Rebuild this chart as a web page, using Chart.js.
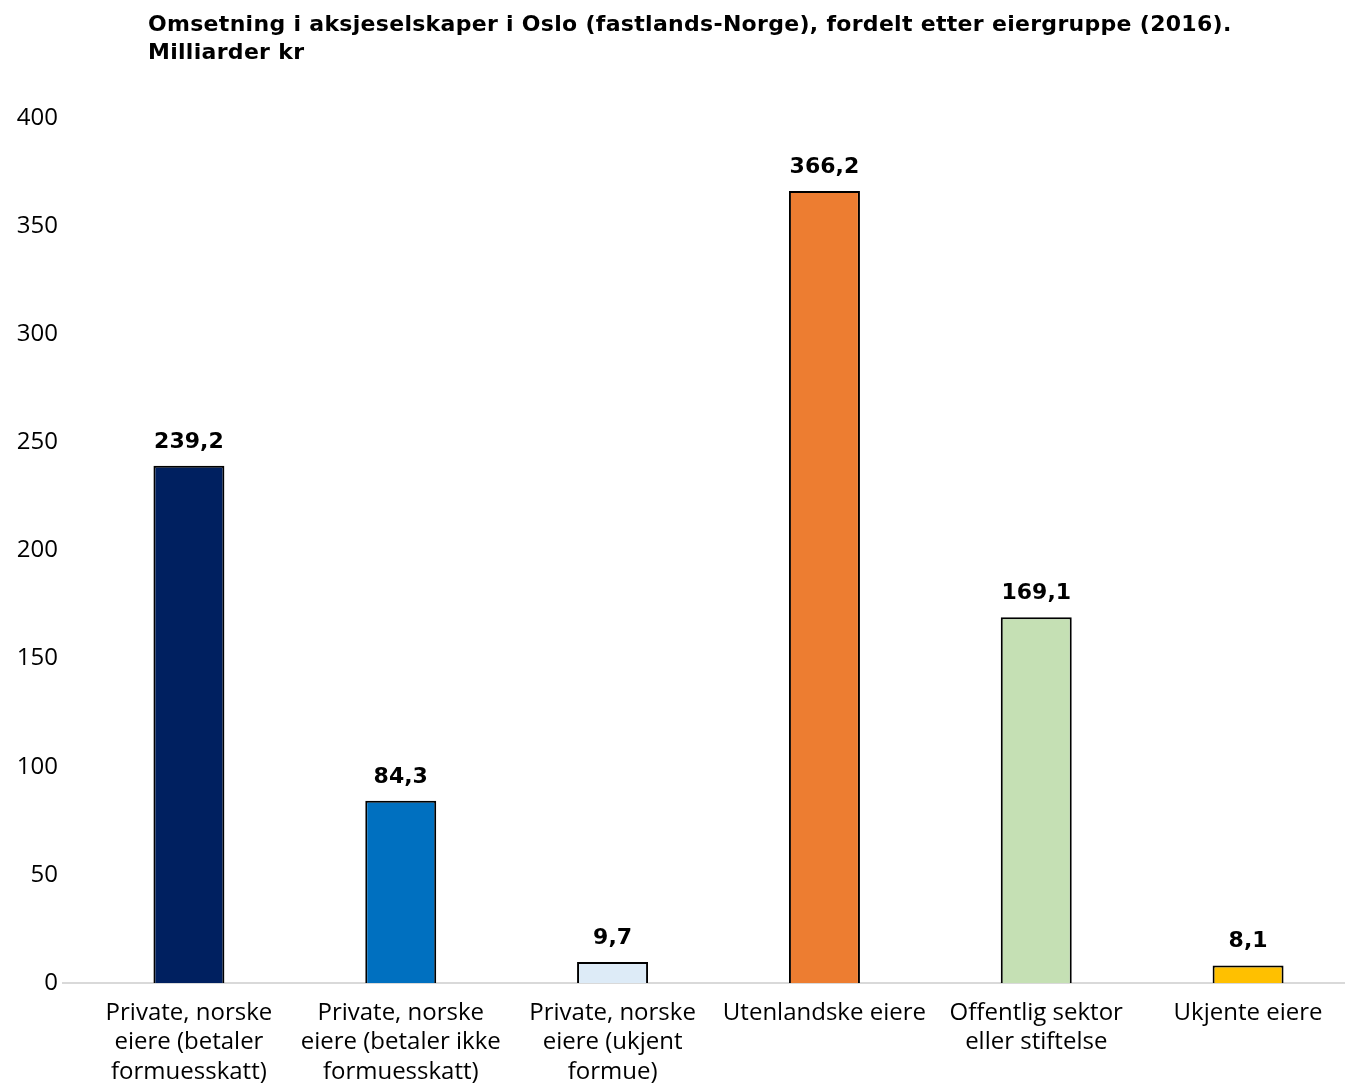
<!DOCTYPE html>
<html>
<head>
<meta charset="utf-8">
<script src="https://cdn.jsdelivr.net/npm/chart.js@4/dist/chart.umd.min.js"></script>
<style>
  html, body { margin: 0; padding: 0; background: #fff; overflow: hidden; }
  #wrap { width: 1360px; height: 1085px; }
</style>
</head>
<body>
<div id="wrap"><canvas id="c"></canvas></div>
<script>
const titleLines = [
  'Omsetning i aksjeselskaper i Oslo (fastlands-Norge), fordelt etter eiergruppe (2016).',
  'Milliarder kr'
];
const categories = [
  ['Private, norske', 'eiere (betaler', 'formuesskatt)'],
  ['Private, norske', 'eiere (betaler ikke', 'formuesskatt)'],
  ['Private, norske', 'eiere (ukjent', 'formue)'],
  'Utenlandske eiere',
  ['Offentlig sektor', 'eller stiftelse'],
  'Ukjente eiere'
];
const values = [239.2, 84.3, 9.7, 366.2, 169.1, 8.1];
const barColors = ['#002060', '#0070C0', '#DDEBF7', '#ED7D31', '#C5E0B4', '#FFC000'];

const fontFamily = '"Open Sans", "DejaVu Sans", sans-serif';
const boldFamily = '"DejaVu Sans", sans-serif';

// value labels above bars, norwegian decimal comma
const valueLabels = {
  id: 'valueLabels',
  afterDatasetsDraw(chart) {
    const ctx = chart.ctx;
    const meta = chart.getDatasetMeta(0);
    ctx.save();
    ctx.font = 'bold 22px ' + boldFamily;
    ctx.fillStyle = '#000';
    ctx.textAlign = 'center';
    ctx.textBaseline = 'alphabetic';
    meta.data.forEach((bar, i) => {
      ctx.fillText(values[i].toFixed(1).replace('.', ','), bar.x, bar.y - 18);
    });
    ctx.restore();
  }
};

// title + x axis line (starts left of the chart area)
const decor = {
  id: 'decor',
  beforeDatasetsDraw(chart) {
    const ctx = chart.ctx;
    const y = chart.scales.y.getPixelForValue(0);
    ctx.save();
    ctx.strokeStyle = '#D9D9D9';
    ctx.lineWidth = 2;
    ctx.beginPath();
    ctx.moveTo(62, y);
    ctx.lineTo(chart.width, y);
    ctx.stroke();
    ctx.restore();
  },
  afterDraw(chart) {
    const ctx = chart.ctx;
    ctx.save();
    ctx.font = 'bold 22px ' + boldFamily;
    ctx.letterSpacing = '0.3px';
    ctx.fillStyle = '#000';
    ctx.textAlign = 'left';
    ctx.textBaseline = 'alphabetic';
    titleLines.forEach((t, i) => ctx.fillText(t, 148, 31 + i * 28));
    ctx.restore();
  }
};

new Chart(document.getElementById('c'), {
  type: 'bar',
  data: {
    labels: categories,
    datasets: [{
      data: values,
      backgroundColor: barColors,
      borderColor: '#000',
      borderWidth: 2,
      categoryPercentage: 1,
      barPercentage: 0.335
    }]
  },
  options: {
    responsive: true,
    maintainAspectRatio: false,
    animation: false,
    layout: { padding: { top: 118, left: 0, right: 6, bottom: 0 } },
    plugins: {
      legend: { display: false },
      tooltip: { enabled: false }
    },
    scales: {
      x: {
        grid: { display: false, drawTicks: false },
        border: { display: false },
        ticks: {
          color: '#000',
          padding: 15,
          maxRotation: 0,
          autoSkip: false,
          font: { family: fontFamily, size: 24, lineHeight: 1.23 }
        },
        afterFit(scale) { scale.height = 102; }
      },
      y: {
        min: 0,
        max: 400,
        grid: { display: false, drawTicks: false },
        border: { display: false },
        ticks: {
          stepSize: 50,
          color: '#000',
          padding: 25,
          font: { family: fontFamily, size: 24 }
        },
        afterFit(scale) { scale.width = 83; }
      }
    }
  },
  plugins: [valueLabels, decor]
});
</script>
</body>
</html>
